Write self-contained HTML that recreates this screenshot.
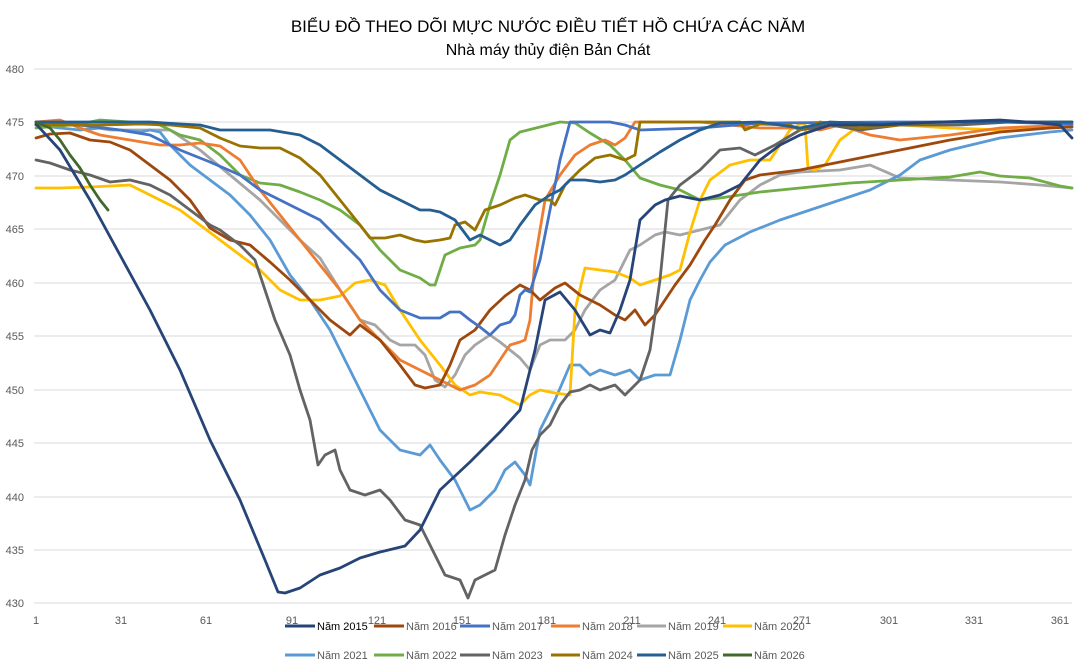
<!DOCTYPE html>
<html><head><meta charset="utf-8"><style>
html,body{margin:0;padding:0;background:#fff;}
svg{display:block;font-family:"Liberation Sans","Noto Sans CJK SC",sans-serif;}
</style></head><body>
<svg width="1080" height="666" viewBox="0 0 1080 666" xmlns="http://www.w3.org/2000/svg">
<rect x="0" y="0" width="1080" height="666" fill="#fff"/>
<text x="548" y="32" text-anchor="middle" font-size="17" fill="#000">BIỂU ĐỒ THEO DÕI MỰC NƯỚC ĐIỀU TIẾT HỒ CHỨA CÁC NĂM</text>
<text x="548" y="55" text-anchor="middle" font-size="16" fill="#000">Nhà máy thủy điện Bản Chát</text>
<g stroke="#d9d9d9" stroke-width="1">
<line x1="34" x2="1072" y1="69" y2="69"/><line x1="34" x2="1072" y1="122" y2="122"/>
<line x1="34" x2="1072" y1="176" y2="176"/><line x1="34" x2="1072" y1="229" y2="229"/>
<line x1="34" x2="1072" y1="283" y2="283"/><line x1="34" x2="1072" y1="336" y2="336"/>
<line x1="34" x2="1072" y1="390" y2="390"/><line x1="34" x2="1072" y1="443" y2="443"/>
<line x1="34" x2="1072" y1="497" y2="497"/><line x1="34" x2="1072" y1="550" y2="550"/>
<line x1="34" x2="1072" y1="603" y2="603"/>
</g>
<g font-size="11" fill="#595959" text-anchor="end">
<text x="24" y="73">480</text><text x="24" y="126">475</text><text x="24" y="180">470</text>
<text x="24" y="233">465</text><text x="24" y="287">460</text><text x="24" y="340">455</text>
<text x="24" y="394">450</text><text x="24" y="447">445</text><text x="24" y="501">440</text>
<text x="24" y="554">435</text><text x="24" y="607">430</text>
</g>
<g font-size="11" fill="#595959" text-anchor="middle">
<text x="36" y="624">1</text><text x="121" y="624">31</text><text x="206" y="624">61</text>
<text x="292" y="624">91</text><text x="377" y="624">121</text><text x="462" y="624">151</text>
<text x="547" y="624">181</text><text x="632" y="624">211</text><text x="717" y="624">241</text>
<text x="802" y="624">271</text><text x="889" y="624">301</text><text x="974" y="624">331</text>
<text x="1060" y="624">361</text>
</g>
<g fill="none" stroke-width="2.8" stroke-linejoin="round" stroke-linecap="round">
<polyline stroke="#A5A5A5" points="36,125 80,125 110,130 140,130 170,130 200,150 230,175 260,200 280,220 300,240 320,258 340,290 360,320 375,325 390,340 400,345 415,345 425,355 435,380 445,387 455,375 465,355 475,345 490,335 500,342 510,350 520,358 530,370 540,345 550,340 565,340 575,330 585,310 600,290 615,280 625,260 630,250 640,245 655,235 665,232 680,235 700,230 720,225 740,200 760,185 780,175 800,172 840,170 870,165 900,178 950,180 1000,182 1040,185 1072,188"/>
<polyline stroke="#5B9BD5" points="36,125 60,128 80,130 100,128 140,132 150,130 160,132 170,145 190,165 210,180 230,195 250,215 270,240 290,275 310,300 330,330 345,360 360,390 380,430 400,450 420,455 430,445 440,460 455,480 470,510 480,505 495,490 505,470 515,462 525,475 530,485 540,430 555,400 570,365 580,365 590,375 600,370 615,375 630,370 640,380 655,375 670,375 680,340 690,300 700,280 710,262 725,245 750,232 780,220 810,210 840,200 870,190 900,175 920,160 950,150 1000,138 1050,132 1072,130"/>
<polyline stroke="#70AD47" points="36,128 60,126 80,124 100,120 130,122 160,125 180,135 200,140 220,155 240,175 260,183 280,185 300,192 320,200 340,210 360,225 380,250 400,270 420,278 430,285 435,285 445,255 460,248 475,245 480,240 490,205 500,175 510,140 520,132 540,127 560,122 575,123 590,133 610,145 625,160 640,178 660,185 680,190 700,200 720,198 740,195 760,192 800,188 850,183 900,180 950,177 980,172 1000,176 1030,178 1060,186 1072,188"/>
<polyline stroke="#FFC000" points="36,188 60,188 90,187 110,186 130,185 140,190 160,200 180,210 200,225 220,240 240,255 260,270 280,290 300,300 320,300 340,296 355,283 370,280 385,285 400,310 420,340 440,365 455,385 470,395 480,392 500,395 520,405 530,395 540,390 555,393 570,395 575,310 585,268 600,270 615,272 630,278 640,285 655,280 670,275 680,270 690,232 700,200 710,180 730,165 750,160 770,160 790,130 800,124 805,124 808,168 815,170 825,165 840,140 860,125 900,125 950,128 1000,130 1072,126"/>
<polyline stroke="#ED7D31" points="36,122 60,120 80,128 100,135 130,140 160,145 180,145 200,143 220,146 240,160 260,190 280,215 300,240 320,265 340,290 360,320 380,340 400,360 420,370 440,380 460,390 475,385 490,375 500,360 510,345 520,342 525,340 530,320 535,260 545,200 560,175 575,155 590,145 605,140 615,145 625,138 635,122 700,122 760,128 800,128 820,130 840,125 870,135 900,140 950,135 1000,128 1072,125"/>
<polyline stroke="#9E480E" points="36,138 50,134 70,133 90,140 110,142 130,150 150,165 170,180 190,200 210,228 230,240 250,245 270,262 290,280 310,300 330,320 350,335 360,325 380,340 400,365 415,385 425,388 440,385 450,365 460,340 475,330 490,310 505,296 520,285 530,290 540,300 555,288 565,283 580,295 600,305 615,315 625,320 635,310 645,325 655,315 665,300 675,285 690,265 705,240 715,225 730,200 745,180 760,175 800,170 850,160 900,150 950,140 1000,132 1050,128 1072,127"/>
<polyline stroke="#4472C4" points="36,122 80,125 120,130 150,135 180,150 210,162 240,175 260,190 280,200 300,210 320,220 340,240 360,260 380,290 400,310 420,318 440,318 450,312 460,312 470,320 480,327 490,335 500,325 510,322 515,315 520,295 525,290 530,292 540,260 550,210 560,160 570,122 610,122 625,125 640,130 700,128 760,123 900,122 1000,122 1072,124"/>
<polyline stroke="#636363" points="36,160 50,163 70,170 90,175 110,182 130,180 150,185 170,195 190,210 210,225 220,230 240,245 255,260 265,290 275,320 290,355 300,390 310,420 318,465 325,455 335,450 340,470 350,490 365,495 380,490 390,500 405,520 420,525 430,545 445,575 460,580 468,598 475,580 485,575 495,570 505,535 515,505 525,480 532,450 540,435 550,425 560,405 570,392 580,390 590,385 600,390 615,385 625,395 640,380 650,350 660,280 668,200 680,185 700,170 720,150 740,148 755,155 775,145 800,130 830,125 860,130 900,125 960,125 1010,122 1072,122"/>
<polyline stroke="#997300" points="36,125 60,125 100,125 140,124 170,125 200,128 220,138 240,146 260,148 280,148 300,158 320,175 340,200 360,225 370,238 385,238 400,235 415,240 425,242 440,240 450,238 455,225 465,222 475,230 485,210 500,205 515,198 525,195 540,200 550,200 555,205 565,185 580,170 595,158 610,155 625,160 635,155 640,122 700,122 740,122 745,130 760,124 790,125 800,130 820,122 860,128 900,125 950,122 1000,122 1072,122"/>
<polyline stroke="#255E91" points="36,122 100,122 150,122 180,124 200,125 220,130 250,130 270,130 300,135 320,145 340,160 360,175 380,190 400,200 410,205 420,210 430,210 440,212 455,220 470,240 480,235 490,240 500,245 510,240 520,225 535,205 550,195 560,190 570,180 585,180 600,182 615,180 625,175 640,165 660,152 680,140 700,130 720,123 760,122 800,128 830,122 880,124 940,122 1000,122 1072,122"/>
<polyline stroke="#264478" points="36,124 60,150 90,200 120,255 150,310 180,370 210,440 240,500 265,560 278,592 285,593 300,588 320,575 340,568 360,558 380,552 405,546 420,530 440,490 470,462 500,432 520,410 535,350 545,300 560,292 575,310 590,335 600,330 610,333 620,310 630,280 640,220 655,205 665,200 680,196 700,200 720,195 740,185 760,160 780,145 800,135 830,125 880,125 940,122 1000,120 1040,123 1060,125 1072,138"/>
<polyline stroke="#43682B" points="36,122 50,128 60,140 70,155 80,168 90,185 100,200 108,210"/>
</g>
<g font-size="11" fill="#595959" stroke-width="3">
<line x1="285" x2="315" y1="626" y2="626" stroke="#264478"/><text x="317" y="630" fill="#000">Năm 2015</text>
<line x1="374" x2="404" y1="626" y2="626" stroke="#9E480E"/><text x="406" y="630">Năm 2016</text>
<line x1="460" x2="490" y1="626" y2="626" stroke="#4472C4"/><text x="492" y="630">Năm 2017</text>
<line x1="551" x2="580" y1="626" y2="626" stroke="#ED7D31"/><text x="582" y="630">Năm 2018</text>
<line x1="637" x2="666" y1="626" y2="626" stroke="#A5A5A5"/><text x="668" y="630">Năm 2019</text>
<line x1="723" x2="752" y1="626" y2="626" stroke="#FFC000"/><text x="754" y="630">Năm 2020</text>
<line x1="285" x2="315" y1="655" y2="655" stroke="#5B9BD5"/><text x="317" y="659">Năm 2021</text>
<line x1="374" x2="404" y1="655" y2="655" stroke="#70AD47"/><text x="406" y="659">Năm 2022</text>
<line x1="460" x2="490" y1="655" y2="655" stroke="#636363"/><text x="492" y="659">Năm 2023</text>
<line x1="551" x2="580" y1="655" y2="655" stroke="#997300"/><text x="582" y="659">Năm 2024</text>
<line x1="637" x2="666" y1="655" y2="655" stroke="#255E91"/><text x="668" y="659">Năm 2025</text>
<line x1="723" x2="752" y1="655" y2="655" stroke="#43682B"/><text x="754" y="659">Năm 2026</text>
</g>
</svg>
</body></html>
